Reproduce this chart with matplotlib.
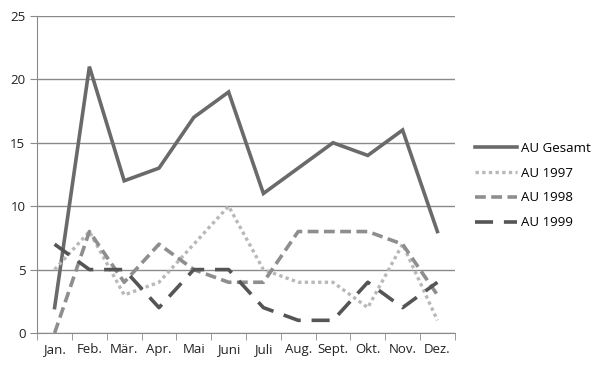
import matplotlib
matplotlib.use("Agg")
import matplotlib.pyplot as plt
import numpy as np

plt.rcParams['font.family'] = ['Open Sans', 'DejaVu Sans']

# Data
months = ["Jan.", "Feb.", "Mär.", "Apr.", "Mai", "Juni", "Juli", "Aug.", "Sept.", "Okt.", "Nov.", "Dez."]
au_gesamt = [2, 21, 12, 13, 17, 19, 11, 13, 15, 14, 16, 8]
au_1997 = [5, 8, 3, 4, 7, 10, 5, 4, 4, 2, 7, 1]
au_1998 = [0, 8, 4, 7, 5, 4, 4, 8, 8, 8, 7, 3]
au_1999 = [7, 5, 5, 2, 5, 5, 2, 1, 1, 4, 2, 4]
y_ticks = [0, 5, 10, 15, 20, 25]

fig = plt.figure(figsize=(6, 3.7), dpi=100)
ax = fig.add_axes([0.062, 0.1, 0.696, 0.857])

x = np.arange(len(months))
ax.plot(x, au_gesamt, color="#6a6a6a", lw=2.6, solid_joinstyle="miter", label="AU Gesamt")
ax.plot(x, au_1997, color="#b8b8b8", lw=2.4, linestyle=(0, (1, 1)), label="AU 1997")
ax.plot(x, au_1998, color="#8e8e8e", lw=2.6, linestyle=(0, (3, 1.5)), label="AU 1998")
ax.plot(x, au_1999, color="#555555", lw=2.6, linestyle=(0, (5, 3)), label="AU 1999")

# axes styling
ax.set_xlim(-0.5, len(months) - 0.5)
ax.set_ylim(0, 25)
ax.set_yticks(y_ticks)
ax.yaxis.grid(True, color="#8a8a8a", lw=1)
ax.set_axisbelow(True)
for s in ["top", "right"]:
    ax.spines[s].set_visible(False)
ax.spines["left"].set_color("#8a8a8a")
ax.spines["bottom"].set_color("#8a8a8a")
ax.set_xticks(x)
ax.set_xticklabels(months)
ax.set_xticks(np.arange(-0.5, len(months)), minor=True)
ax.tick_params(axis="x", which="major", length=0, pad=7, labelsize=9.5, colors="#222222")
ax.tick_params(axis="x", which="minor", length=5, color="#8a8a8a")
ax.tick_params(axis="y", length=5, color="#8a8a8a", labelsize=9.5, labelcolor="#222222")

ax.legend(loc="center left", bbox_to_anchor=(1.02, 0.465), frameon=False,
          fontsize=9.5, handlelength=3.2, handletextpad=0.3, labelspacing=0.9)

fig.savefig("out.png", dpi=100)
